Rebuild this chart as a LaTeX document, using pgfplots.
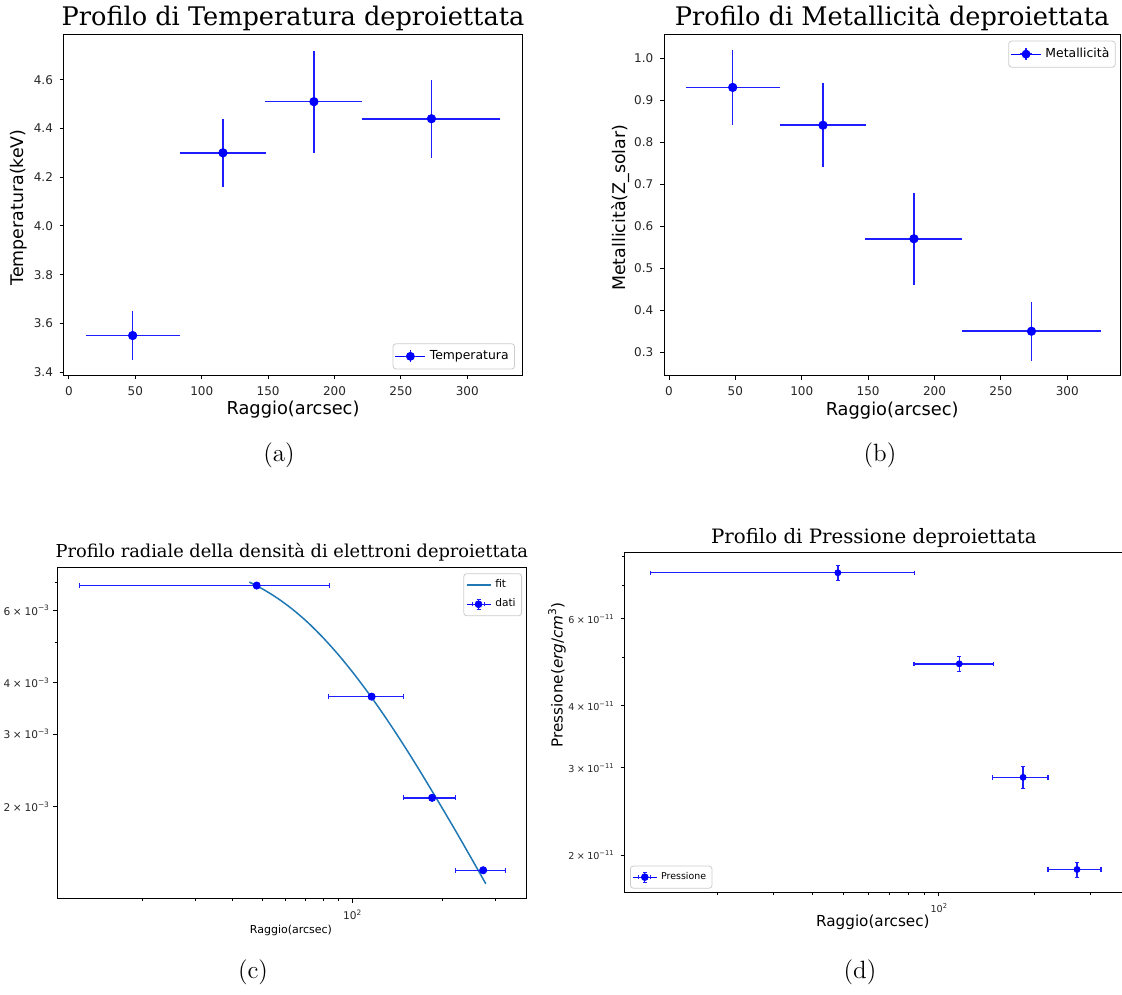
\documentclass[border=0pt]{standalone}
\usepackage{fontspec}
\usepackage{graphicx}
\usepackage{pgfplots}
\pgfplotsset{compat=1.18}
\newfontfamily\dvs{DejaVu Sans}
\newfontfamily\dvserif{DejaVu Serif}
\definecolor{tabblue}{HTML}{1F77B4}
\definecolor{errblue}{RGB}{30,30,255}
\newcommand\sups[1]{\raisebox{0.42em}{\scalebox{0.7}{#1}}}
\newcommand\tms{\hspace{0.25em}×\hspace{0.25em}}

\pgfplotstableread{
r    er    T     eT    Z     eZ
48   35.5  3.55  0.10  0.93  0.09
116  32.5  4.30  0.14  0.84  0.10
184.5 36.5 4.51  0.21  0.57  0.11
273  52    4.44  0.16  0.35  0.07
}\tabTZ

\pgfplotstableread{
r    er    n        P         eP
48   35.7  0.00689  7.43e-11  0.25e-11
116  32.5  0.00370  4.865e-11 0.17e-11
184.5 36.5 0.00210  2.87e-11  0.15e-11
273  52    0.00140  1.87e-11  0.065e-11
}\tabNP

\pgfplotstableread{
r      n
45.39  0.007022
50.12  0.006765
56.23  0.006422
63.10  0.006038
70.79  0.005618
79.43  0.005170
89.13  0.004710
100.0  0.004252
112.2  0.003806
125.9  0.003381
141.3  0.002981
158.5  0.002614
177.8  0.002280
199.5  0.001982
223.9  0.001717
251.2  0.001483
278.6  0.001298
}\tabFit

\pgfplotsset{
  mplbase/.style={
    scale only axis,
    axis line style={black, line width=0.5pt},
    tick align=outside,
    xtick pos=bottom, ytick pos=left,
    major tick length=2pt, minor tick length=1.2pt,
    every tick/.append style={black, line width=0.45pt},
    /pgf/number format/assume math mode=true,
    legend cell align=left,
  },
  ebarA/.style={
    blue, only marks, mark=*, mark size=2.1pt, mark options={fill=blue, draw=blue},
    error bars/.cd, x dir=both, x explicit, y dir=both, y explicit,
    error bar style={errblue, line width=0.8pt}, error mark=none
  },
  legA/.style={
    legend image code/.code={
      \path (0pt,0pt) -- (15pt,0pt);
      \draw[errblue, line width=0.7pt] (7.5pt,-3pt)--(7.5pt,3pt);
      \draw[errblue, line width=0.7pt] (4.5pt,0pt)--(10.5pt,0pt);
      \fill[blue] (7.5pt,0pt) circle (2pt);
    }
  },
  legC/.style={
    legend image code/.code={
      \path (0pt,0pt) -- (12pt,0pt);
      \draw[errblue, line width=0.5pt] (6pt,-2.5pt)--(6pt,2.5pt);
      \draw[errblue, line width=0.5pt] (5pt,-2.5pt)--(7pt,-2.5pt) (5pt,2.5pt)--(7pt,2.5pt);
      \draw[errblue, line width=0.5pt] (3pt,0pt)--(9pt,0pt) (3pt,-1pt)--(3pt,1pt) (9pt,-1pt)--(9pt,1pt);
      \fill[blue] (6pt,0pt) circle (1.7pt);
    }
  },
}

\begin{document}
\begin{tikzpicture}
\useasboundingbox (0,0) rectangle (561pt,497pt);

% ---------------- (a) ----------------
\begin{axis}[mplbase,
  at={(32pt,479.65pt)}, anchor=north west,
  width=229pt, height=170.4pt,
  xmin=-3.7, xmax=341.2, ymin=3.386, ymax=4.785,
  xtick={0,50,100,150,200,250,300},
  ytick={3.4,3.6,3.8,4.0,4.2,4.4,4.6},
  yticklabel style={/pgf/number format/.cd, fixed, fixed zerofill, precision=1},
  tick label style={font=\dvs\fontsize{6}{7}\selectfont, text=black!85},
  title={Profilo di Temperatura deproiettata},
  every axis title/.style={at={(axis description cs:0.5,1)}, anchor=base, yshift=4.35pt, font=\dvserif\fontsize{12.8}{15}\selectfont},
  xlabel={Raggio(arcsec)},
  xlabel style={at={(axis description cs:0.5,-0.101)}, anchor=center, font=\dvs\fontsize{8.9}{10}\selectfont},
  ylabel={Temperatura(keV)},
  ylabel style={at={(axis description cs:-0.098,0.493)}, anchor=center, font=\dvs\fontsize{8.7}{10}\selectfont},
  legend style={at={(0.9847,0.018)}, anchor=south east, draw=black!20, rounded corners=1.5pt, fill=white, font=\dvs\fontsize{6.2}{7.5}\selectfont, inner xsep=1pt, inner ysep=1.3pt},
]
\addplot[legA, ebarA] table[x=r, y=T, x error=er, y error=eT] {\tabTZ};
\addlegendentry{Temperatura}
\end{axis}

% ---------------- (b) ----------------
\begin{axis}[mplbase,
  at={(332.15pt,479.65pt)}, anchor=north west,
  width=227.85pt, height=170.65pt,
  xmin=-3.5, xmax=339.7, ymin=0.2436, ymax=1.0554,
  xtick={0,50,100,150,200,250,300},
  ytick={0.3,0.4,0.5,0.6,0.7,0.8,0.9,1.0},
  yticklabel style={/pgf/number format/.cd, fixed, fixed zerofill, precision=1},
  tick label style={font=\dvs\fontsize{6}{7}\selectfont, text=black!85},
  title={Profilo di Metallicità deproiettata},
  every axis title/.style={at={(axis description cs:0.5,1)}, anchor=base, yshift=4.35pt, font=\dvserif\fontsize{12.8}{15}\selectfont},
  xlabel={Raggio(arcsec)},
  xlabel style={at={(axis description cs:0.5,-0.101)}, anchor=center, font=\dvs\fontsize{8.9}{10}\selectfont},
  ylabel={Metallicità(Z\_solar)},
  ylabel style={at={(axis description cs:-0.095,0.493)}, anchor=center, font=\dvs\fontsize{8.7}{10}\selectfont},
  legend style={at={(0.9906,0.9824)}, anchor=north east, draw=black!20, rounded corners=1.5pt, fill=white, font=\dvs\fontsize{6.2}{7.5}\selectfont, inner xsep=1pt, inner ysep=1.3pt},
]
\addplot[legA, ebarA] table[x=r, y=Z, x error=er, y error=eZ] {\tabTZ};
\addlegendentry{Metallicità}
\end{axis}

% ---------------- (c) ----------------
\begin{axis}[mplbase,
  at={(28.5pt,213.35pt)}, anchor=north west,
  width=234.85pt, height=165.7pt,
  xmode=log, ymode=log,
  xmin=10.37, xmax=381.4, ymin=0.001194, ymax=0.00763,
  xtick={100}, xticklabels={10\sups{2}},
  minor xtick={20,30,40,50,60,70,80,90,200,300},
  ytick={0.002,0.003,0.004,0.006},
  yticklabels={2\tms10\sups{−3},3\tms10\sups{−3},4\tms10\sups{−3},6\tms10\sups{−3}},
  minor ytick={0.005,0.007},
  tick label style={font=\dvs\fontsize{5.3}{6}\selectfont, text=black!85},
  yticklabel style={xshift=1.5pt},
  title={Profilo radiale della densità di elettroni deproiettata},
  every axis title/.style={at={(axis description cs:0.5,1)}, anchor=base, yshift=4.8pt, font=\dvserif\fontsize{8.9}{10}\selectfont},
  xlabel={Raggio(arcsec)},
  xlabel style={at={(axis description cs:0.498,-0.0945)}, anchor=center, font=\dvs\fontsize{5.5}{6.5}\selectfont},
  legend style={at={(0.99,0.982)}, anchor=north east, draw=black!20, rounded corners=1.5pt, fill=white, font=\dvs\fontsize{5.3}{6.5}\selectfont, inner xsep=1pt, inner ysep=1pt},
]
\addplot[tabblue, line width=0.75pt, smooth, legend image code/.code={\draw[tabblue, line width=0.75pt] (0pt,0pt)--(12pt,0pt);}] table[x=r, y=n] {\tabFit};
\addlegendentry{fit}
\addplot[legC, blue, only marks, mark=*, mark size=1.8pt, mark options={fill=blue, draw=blue},
  error bars/.cd, x dir=both, x explicit, error bar style={errblue, line width=0.7pt},
  error mark options={mark size=1.2pt, line width=0.55pt, rotate=90}]
  table[x=r, y=n, x error=er] {\tabNP};
\addlegendentry{dati}
\end{axis}

% ---------------- (d) ----------------
\begin{axis}[mplbase,
  at={(312.35pt,221pt)}, anchor=north west,
  width=249.15pt, height=170.15pt,
  xmode=log, ymode=log,
  xmin=10.2, xmax=381.4, ymin=1.681e-11, ymax=8.18e-11,
  xtick={100}, xticklabels={10\sups{2}},
  minor xtick={20,30,40,50,60,70,80,90,200,300},
  ytick={2e-11,3e-11,4e-11,6e-11},
  yticklabels={2\tms10\sups{−11},3\tms10\sups{−11},4\tms10\sups{−11},6\tms10\sups{−11}},
  minor ytick={5e-11,7e-11,8e-11},
  tick label style={font=\dvs\fontsize{4.8}{5.5}\selectfont, text=black!85},
  title={Profilo di Pressione deproiettata},
  every axis title/.style={at={(axis description cs:0.5,1)}, anchor=base, yshift=4.35pt, font=\dvserif\fontsize{9.9}{12}\selectfont},
  xlabel={Raggio(arcsec)},
  xlabel style={at={(axis description cs:0.498,-0.087)}, anchor=center, font=\dvs\fontsize{7.6}{9}\selectfont},
  ylabel={Pressione(\textit{erg}/\textit{cm}\sups{3})},
  ylabel style={at={(axis description cs:-0.136,0.639)}, anchor=center, font=\dvs\fontsize{7.6}{9}\selectfont},
  legend style={at={(0.0106,0.011)}, anchor=south west, draw=black!20, rounded corners=1.5pt, fill=white, font=\dvs\fontsize{4.7}{5.5}\selectfont, inner xsep=1pt, inner ysep=1pt},
]
\addplot[legC, blue, only marks, mark=*, mark size=1.5pt, mark options={fill=blue, draw=blue},
  error bars/.cd, x dir=both, x explicit, y dir=both, y explicit, error bar style={errblue, line width=0.7pt},
  error mark options={mark size=1.1pt, line width=0.55pt, rotate=90}]
  table[x=r, y=P, x error=er, y error=eP] {\tabNP};
\addlegendentry{Pressione}
\end{axis}

% captions
\node[font=\fontsize{12.5}{15}\selectfont] at (139.5pt,269.5pt) {(a)};
\node[font=\fontsize{12.5}{15}\selectfont] at (440pt,269.5pt) {(b)};
\node[font=\fontsize{12.5}{15}\selectfont] at (126.5pt,11pt) {(c)};
\node[font=\fontsize{12.5}{15}\selectfont] at (430pt,11pt) {(d)};
\end{tikzpicture}
\end{document}
